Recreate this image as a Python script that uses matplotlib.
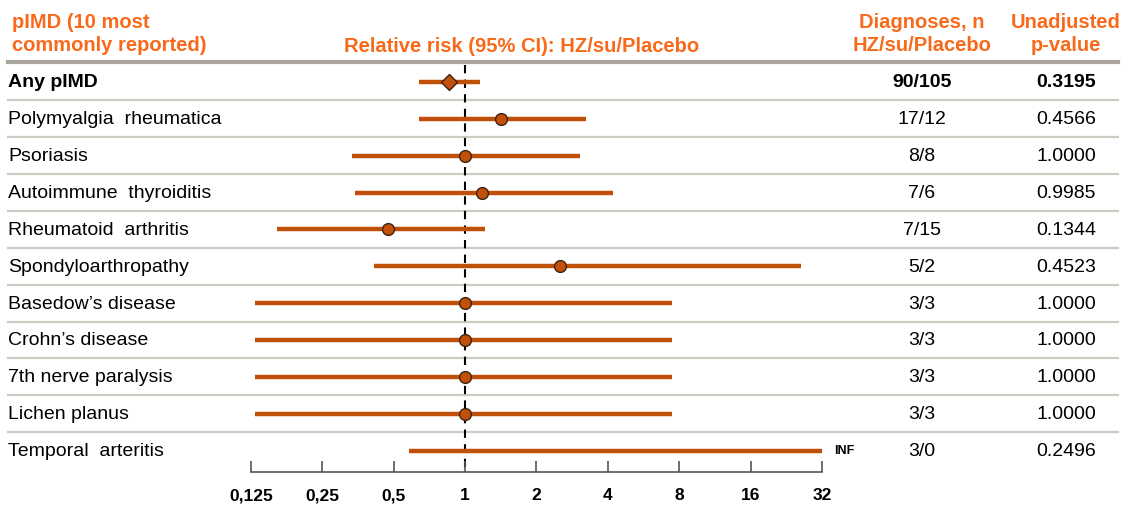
import matplotlib
matplotlib.use("Agg")
import matplotlib.pyplot as plt
import numpy as np

plt.rcParams['font.family'] = ['Liberation Sans', 'DejaVu Sans']

labels = ["Any pIMD", "Polymyalgia  rheumatica", "Psoriasis", "Autoimmune  thyroiditis",
          "Rheumatoid  arthritis", "Spondyloarthropathy", "Basedow\u2019s disease",
          "Crohn\u2019s disease", "7th nerve paralysis", "Lichen planus", "Temporal  arteritis"]
rr = [0.856, 1.42, 1.0, 1.18, 0.474, 2.52, 1.0, 1.0, 1.0, 1.0, np.nan]
ci_low = [0.64, 0.64, 0.334, 0.344, 0.161, 0.414, 0.130, 0.130, 0.130, 0.130, 0.58]
ci_high = [1.157, 3.24, 3.05, 4.2, 1.21, 26.1, 7.46, 7.46, 7.46, 7.46, 32]
diagnoses = ["90/105", "17/12", "8/8", "7/6", "7/15", "5/2", "3/3", "3/3", "3/3", "3/3", "3/0"]
pvalues = ["0.3195", "0.4566", "1.0000", "0.9985", "0.1344", "0.4523", "1.0000",
           "1.0000", "1.0000", "1.0000", "0.2496"]
tick_vals = [0.125, 0.25, 0.5, 1, 2, 4, 8, 16, 32]
tick_labels = ["0,125", "0,25", "0,5", "1", "2", "4", "8", "16", "32"]

W, H = 1124, 506
fig = plt.figure(figsize=(W / 100, H / 100), dpi=100)
fig.patch.set_facecolor("white")

orange = "#F86A1A"
line_col = "#C05008"
mark_face = "#C0500A"
mark_edge = "#3a2410"
sep_col = "#CFCBC4"

# main axes spanning whole figure; x mapping: 1 -> 465px, doubling = 71.4px
px_per_oct = 71.4
x1 = 465
ax = fig.add_axes([0, 0, 1, 1])
ax.set_xscale('log', base=2)
ax.set_xlim(2 ** (-x1 / px_per_oct), 2 ** ((W - x1) / px_per_oct))
row0 = 83
row_h = 36.85
ax.set_ylim((H - row0) / row_h, -row0 / row_h)
ax.axis('off')

n = len(labels)
ypos = np.arange(n)

# separators
sep_y = ypos[:-1] + 0.5
for y in sep_y:
    ax.axhline(y, xmin=8 / W, xmax=1118 / W, color=sep_col, lw=1.6, zorder=1)
ax.axhline(-0.54, xmin=8 / W, xmax=1118 / W, color="#A9A59E", lw=3.0, zorder=1)

# reference line at 1
ax.plot([1, 1], [-0.47, (473 - row0) / row_h], color="black", lw=1.5,
        ls=(0, (4, 3)), zorder=2)

# CIs and points
for i in range(n):
    ax.plot([ci_low[i], ci_high[i]], [i, i], color=line_col, lw=3.2,
            solid_capstyle='butt', zorder=3)
    if not np.isnan(rr[i]):
        marker = 'D' if i == 0 else 'o'
        ax.plot(rr[i], i, marker=marker, ms=8.5, mfc=mark_face, mec=mark_edge,
                mew=1.0, zorder=4)

ax.text(ci_high[-1] * 1.13, n - 1, "INF", fontsize=9, fontweight='bold',
        va='center', ha='left')

# row labels and values
ytr = ax.get_yaxis_transform()
for i in range(n):
    fw = 'bold' if i == 0 else 'normal'
    ax.text(8 / W, i, labels[i], transform=ytr,
            fontsize=14, fontweight=fw, va='center', ha='left')
    ax.text(922 / W, i, diagnoses[i], transform=ytr,
            fontsize=14, fontweight=fw, va='center', ha='center')
    ax.text(1066 / W, i, pvalues[i], transform=ytr,
            fontsize=14, fontweight=fw, va='center', ha='center')

# headers
hdr = dict(color=orange, fontsize=14.5, fontweight='bold', transform=fig.transFigure)
fig.text(12 / W, 1 - 34 / H, "pIMD (10 most\ncommonly reported)", ha='left',
         va='center', linespacing=1.3, **hdr)
fig.text(522 / W, 1 - 47 / H, "Relative risk (95% CI): HZ/su/Placebo", ha='center',
         va='center', **hdr)
fig.text(922 / W, 1 - 34 / H, "Diagnoses, n\nHZ/su/Placebo", ha='center',
         va='center', linespacing=1.3, **hdr)
fig.text(1066 / W, 1 - 34 / H, "Unadjusted\np-value", ha='center',
         va='center', linespacing=1.3, **hdr)

# bottom x axis
xa_left = x1 + px_per_oct * np.log2(0.125)
xa_right = x1 + px_per_oct * np.log2(32)
axb = fig.add_axes([xa_left / W, (H - 473) / H, (xa_right - xa_left) / W, 0.001])
axb.set_xscale('log', base=2)
axb.set_xlim(0.125, 32)
axb.set_xticks(tick_vals)
axb.set_xticklabels(tick_labels, fontsize=12.5, fontweight='bold')
axb.minorticks_off()
axb.tick_params(axis='x', direction='in', length=8, width=1.2, color="#555555",
                pad=11)
axb.set_yticks([])
for s in ['top', 'left', 'right']:
    axb.spines[s].set_visible(False)
axb.spines['bottom'].set_color("#555555")
axb.spines['bottom'].set_linewidth(1.2)
axb.patch.set_alpha(0)

fig.savefig("out.png", dpi=100, facecolor="white")
